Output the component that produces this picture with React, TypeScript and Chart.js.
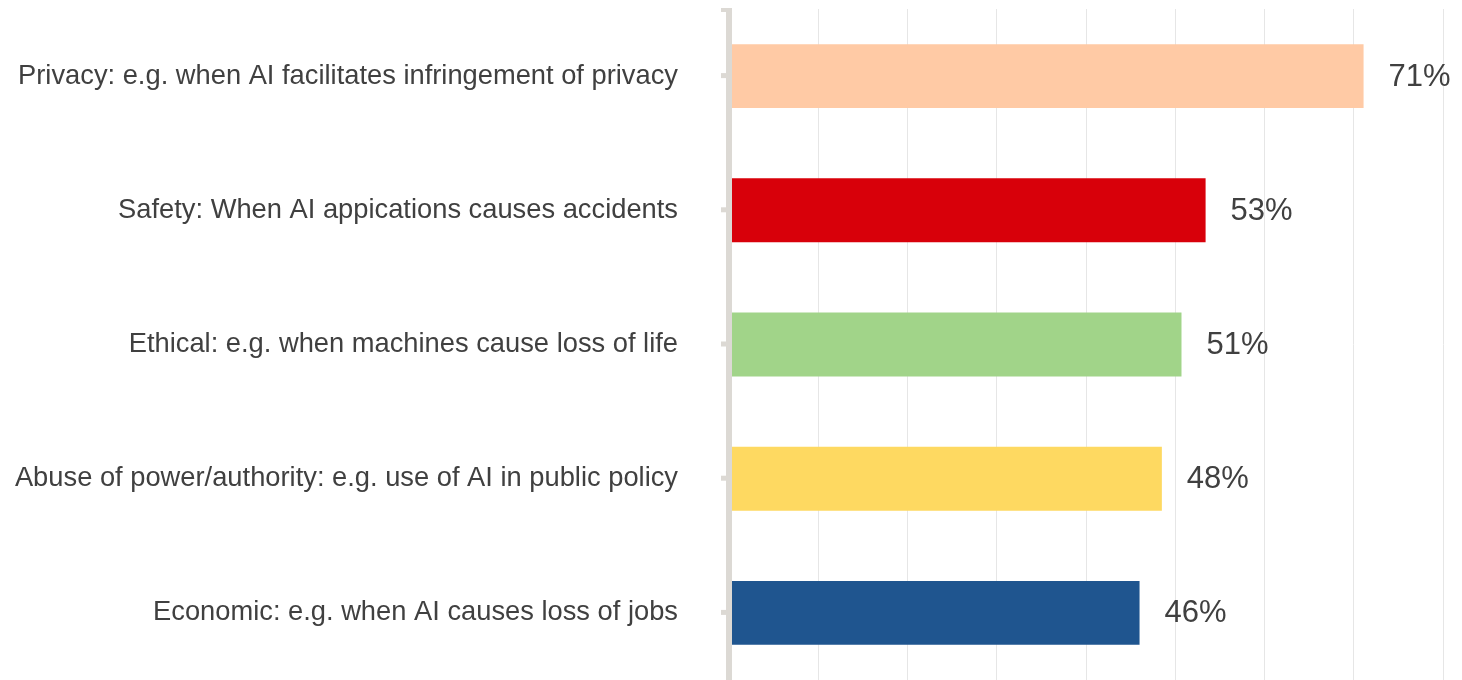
import React, { useEffect, useRef } from "react";
import { Chart, registerables } from "chart.js";

Chart.register(...registerables);

const categories = [
  "Privacy: e.g. when AI facilitates infringement of privacy",
  "Safety: When AI appications causes accidents",
  "Ethical: e.g. when machines cause loss of life",
  "Abuse of power/authority: e.g. use of AI in public policy",
  "Economic: e.g. when AI causes loss of jobs",
];
const values = [71.1, 53.4, 50.7, 48.5, 46.0];
const valueLabels = ["71%", "53%", "51%", "48%", "46%"];
const barColors = ["#FFCAA5", "#D8000A", "#A1D489", "#FED961", "#1F558F"];

const TEXT = "#404040";
const AXIS = "#dcd9d4";
const FONT = "'Liberation Sans', Arial, sans-serif";

const valueLabelPlugin = {
  id: "valueLabels",
  afterDatasetsDraw(chart: any) {
    const ctx = chart.ctx;
    const area = chart.chartArea;
    const meta = chart.getDatasetMeta(0);
    ctx.save();
    // axis line drawn over bar bases
    ctx.fillStyle = AXIS;
    ctx.fillRect(area.left - 3, area.top, 6, area.bottom - area.top);
    // top cap
    ctx.fillRect(area.left - 8, area.top - 1, 11, 4);
    // tick marks at category centres
    meta.data.forEach((bar: any) => {
      ctx.fillRect(area.left - 8, bar.y - 3, 6, 5);
    });
    ctx.font = `31px ${FONT}`;
    ctx.fillStyle = TEXT;
    ctx.textAlign = "left";
    ctx.textBaseline = "middle";
    meta.data.forEach((bar: any, i: number) => {
      ctx.fillText(valueLabels[i], bar.x + 25, bar.y + 1);
    });
    ctx.restore();
  },
};

export default function App() {
  const ref = useRef<HTMLCanvasElement>(null);
  useEffect(() => {
    if (!ref.current) return;
    const chart = new Chart(ref.current, {
      type: "bar",
      data: {
        labels: categories,
        datasets: [
          {
            data: values,
            backgroundColor: barColors,
            borderWidth: 0,
            barPercentage: 0.476,
            categoryPercentage: 1,
          },
        ],
      },
      options: {
        indexAxis: "y",
        animation: false,
        responsive: false,
        layout: { padding: { top: 9, right: 19, bottom: 0, left: 0 } },
        plugins: { legend: { display: false }, tooltip: { enabled: false } },
        scales: {
          x: {
            min: 0,
            max: 80,
            ticks: { display: false, stepSize: 10 },
            grid: { color: "#e6e6e6", lineWidth: 1, drawTicks: false },
            border: { display: false },
            afterFit: (s: any) => {
              s.height = 0;
              s.paddingLeft = 0;
              s.paddingRight = 0;
            },
          },
          y: {
            ticks: {
              color: TEXT,
              font: { family: FONT, size: 27.3 },
              padding: 46,
            },
            grid: {
              drawOnChartArea: false,
              drawTicks: true,
              tickLength: 5,
              tickColor: "rgba(0,0,0,0)",
              color: "rgba(0,0,0,0)",
            },
            border: { display: false },
            afterFit: (s: any) => {
              s.width = 729;
              s.paddingTop = 0;
              s.paddingBottom = 0;
            },
          },
        },
      },
      plugins: [valueLabelPlugin],
    });
    return () => chart.destroy();
  }, []);
  return (
    <div style={{ position: "absolute", left: 0, top: 0, width: 1462, height: 680, background: "#fff" }}>
      <canvas ref={ref} width={1462} height={680} />
    </div>
  );
}
